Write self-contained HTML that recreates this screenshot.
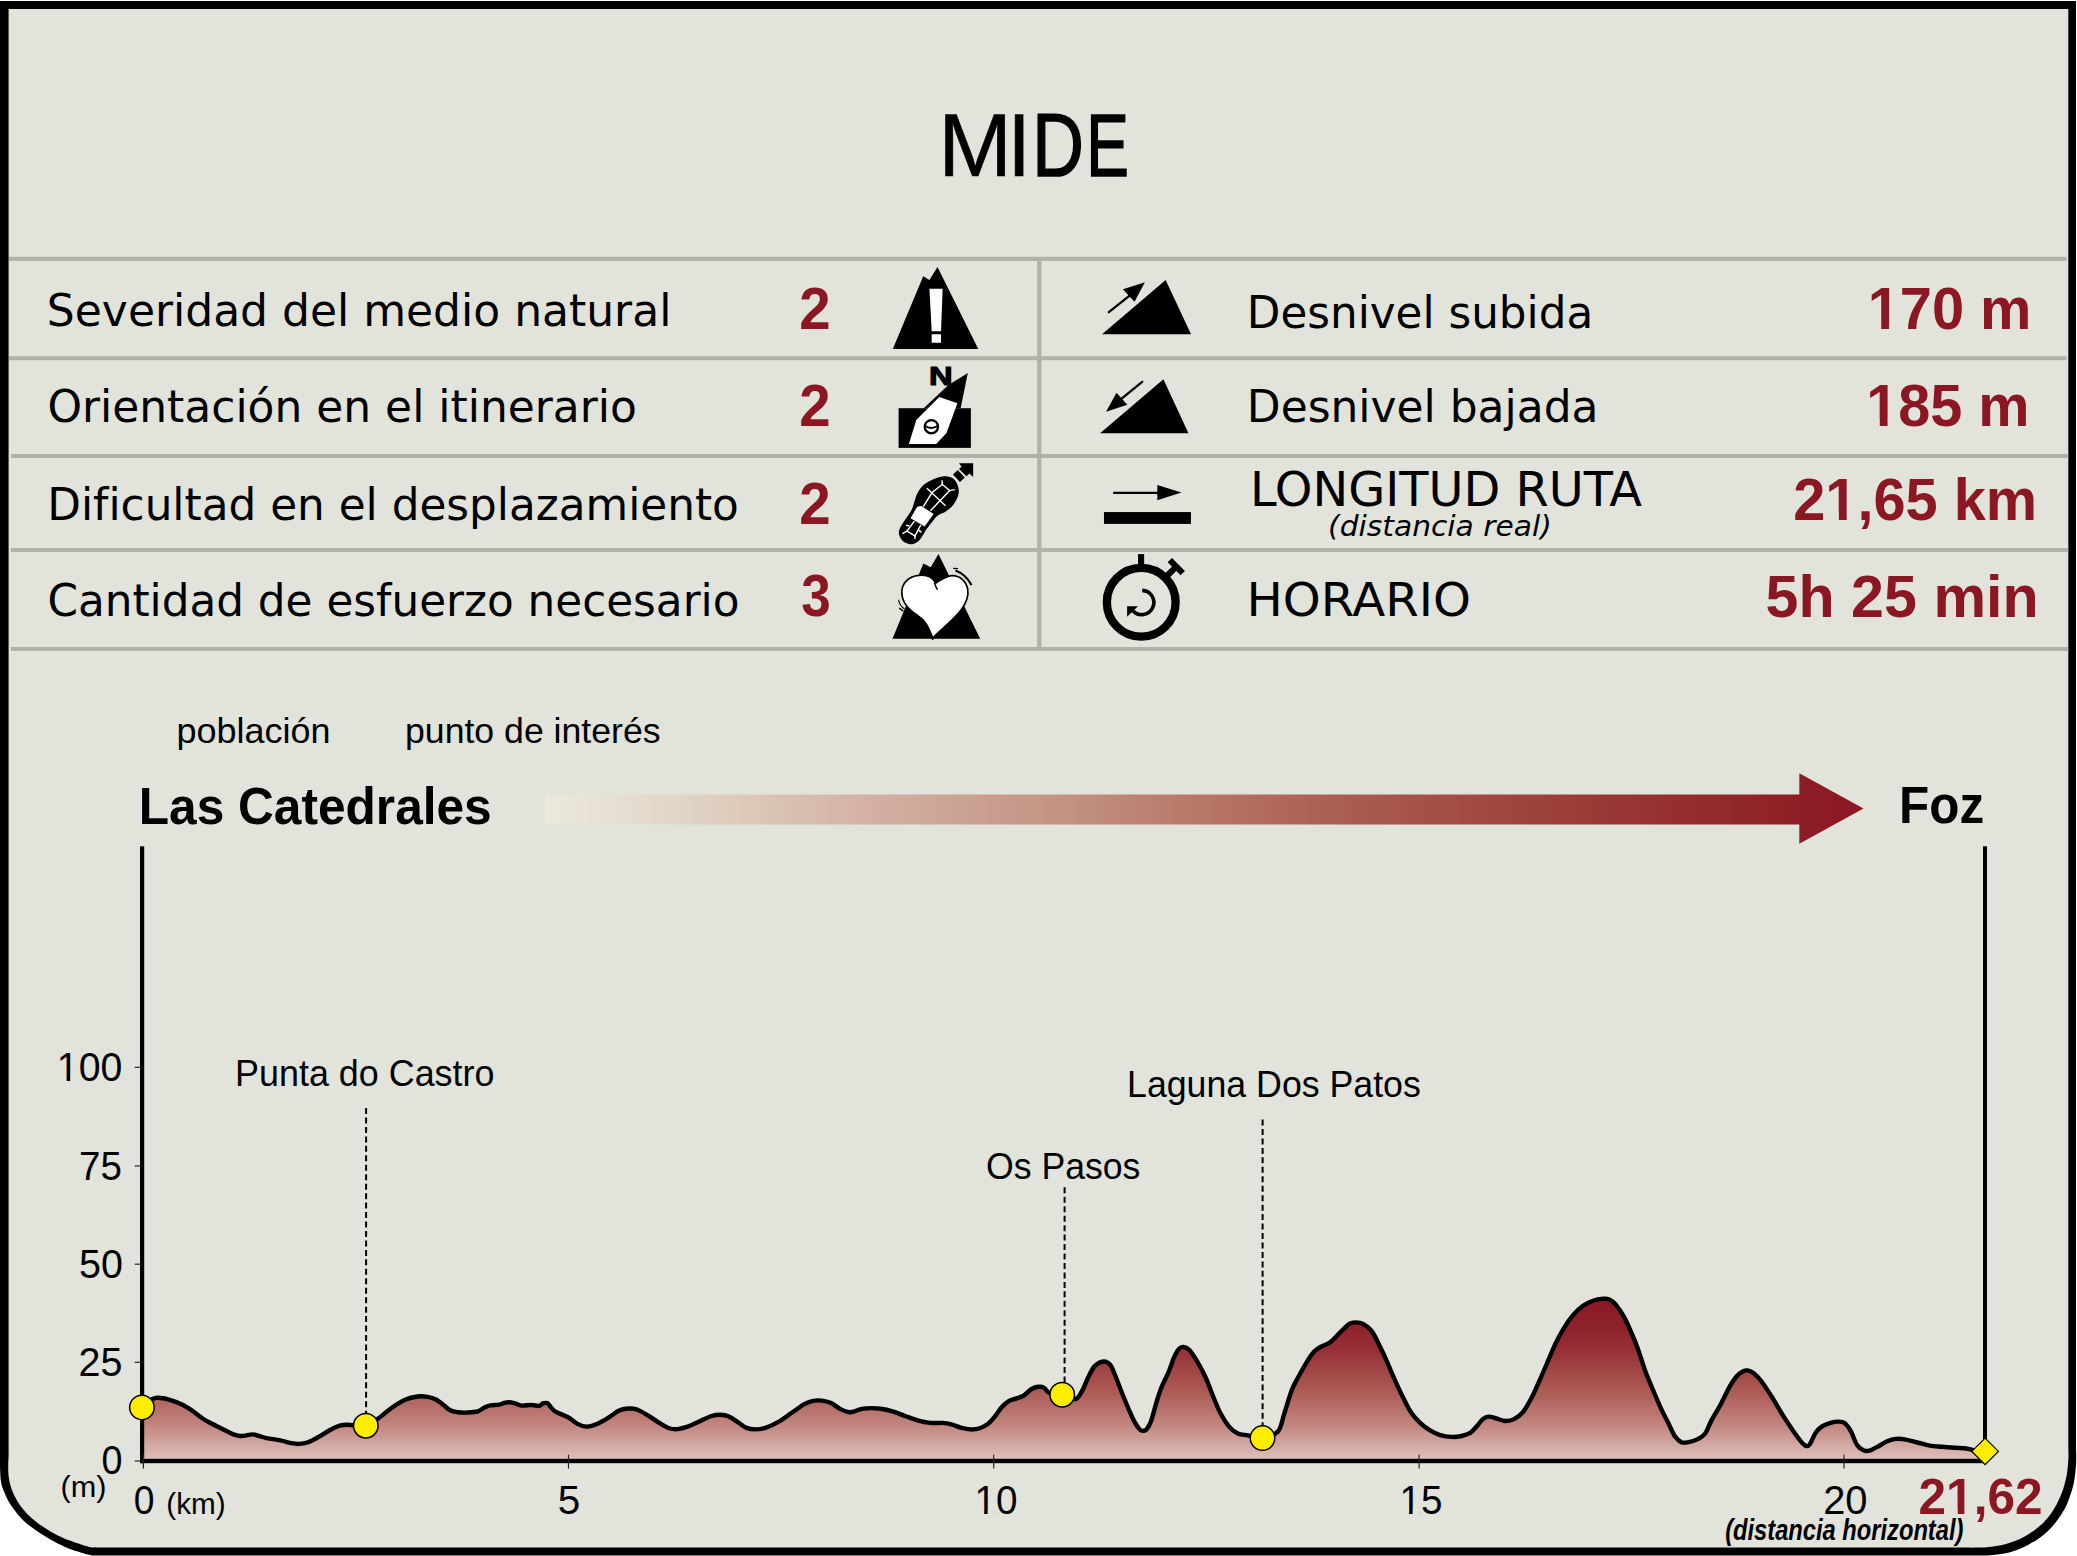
<!DOCTYPE html>
<html lang="es"><head><meta charset="utf-8"><title>MIDE</title>
<style>html,body{margin:0;padding:0;background:#fff}svg{display:block}text{white-space:pre}</style></head><body>
<svg width="2077" height="1556" viewBox="0 0 2077 1556">
<defs>
<linearGradient id="gArrow" gradientUnits="userSpaceOnUse" x1="545" y1="0" x2="1864" y2="0">
<stop offset="0.0000" stop-color="#ece9de"/>
<stop offset="0.0599" stop-color="#e5ded1"/>
<stop offset="0.1236" stop-color="#dfd0c0"/>
<stop offset="0.1880" stop-color="#d9bfb0"/>
<stop offset="0.2517" stop-color="#d2b0a1"/>
<stop offset="0.3154" stop-color="#cba292"/>
<stop offset="0.3791" stop-color="#c49686"/>
<stop offset="0.4435" stop-color="#bd8576"/>
<stop offset="0.5072" stop-color="#b67464"/>
<stop offset="0.6088" stop-color="#aa5c52"/>
<stop offset="0.7369" stop-color="#9e443e"/>
<stop offset="0.8643" stop-color="#942e2e"/>
<stop offset="0.9795" stop-color="#8b1922"/>
<stop offset="1.0000" stop-color="#8b1722"/>
</linearGradient>
<linearGradient id="gProf" gradientUnits="userSpaceOnUse" x1="0" y1="1299" x2="0" y2="1460">
<stop offset="0.0000" stop-color="rgb(139,23,34)"/>
<stop offset="0.1615" stop-color="rgb(142,34,42)"/>
<stop offset="0.3168" stop-color="rgb(150,48,53)"/>
<stop offset="0.5839" stop-color="rgb(173,92,87)"/>
<stop offset="0.7888" stop-color="rgb(195,135,128)"/>
<stop offset="0.9068" stop-color="rgb(210,168,162)"/>
<stop offset="1.0000" stop-color="rgb(223,193,189)"/>
</linearGradient>
</defs>
<path d="M0,1 L2076,1 L2076,1448 C2076.0,1449.3 2076.2,1453.1 2076.2,1456.0 C2076.2,1458.9 2076.2,1462.4 2076.0,1465.6 C2075.8,1468.8 2075.4,1472.1 2075.0,1475.3 C2074.6,1478.5 2074.2,1481.7 2073.4,1484.9 C2072.7,1488.1 2071.6,1491.4 2070.5,1494.6 C2069.4,1497.8 2068.4,1501.0 2067.0,1504.2 C2065.6,1507.4 2063.7,1510.7 2061.8,1513.8 C2059.9,1516.9 2057.8,1519.9 2055.4,1522.8 C2053.1,1525.7 2050.6,1528.5 2047.7,1531.2 C2044.8,1533.9 2041.3,1536.7 2038.1,1538.9 C2034.9,1541.2 2031.6,1543.0 2028.4,1544.7 C2025.2,1546.4 2022.0,1547.9 2018.8,1549.2 C2015.6,1550.5 2012.3,1551.6 2009.1,1552.4 C2005.9,1553.2 2002.7,1553.8 1999.5,1554.3 C1996.3,1554.8 1993.7,1555.0 1989.9,1555.2 C1986.2,1555.4 1981.2,1555.5 1977.0,1555.5 C1972.8,1555.5 1967.0,1555.5 1965.0,1555.5 L92,1555.5 C91.1,1555.3 90.3,1555.3 86.8,1554.3 C83.2,1553.2 75.5,1551.0 70.7,1549.2 C65.9,1547.4 62.1,1545.6 57.8,1543.4 C53.5,1541.2 49.1,1538.8 45.0,1536.3 C40.9,1533.8 37.0,1531.3 33.4,1528.6 C29.8,1525.9 26.2,1523.3 23.1,1520.3 C20.0,1517.3 17.3,1513.8 14.8,1510.6 C12.3,1507.4 10.2,1504.2 8.3,1501.0 C6.5,1497.8 5.1,1494.5 3.9,1491.3 C2.7,1488.1 1.6,1485.8 1.0,1481.7 C0.3,1477.6 0.2,1471.2 0.0,1466.9 C-0.2,1462.6 0.0,1457.8 0.0,1456.0 Z" fill="#000"/>
<path d="M8.6,9 L2068.3,9 L2068.3,1448 C2068.3,1449.3 2068.6,1453.1 2068.5,1456.0 C2068.4,1458.9 2068.2,1462.4 2067.9,1465.6 C2067.6,1468.8 2067.3,1472.1 2066.7,1475.3 C2066.1,1478.5 2065.3,1481.7 2064.4,1484.9 C2063.5,1488.1 2062.5,1491.4 2061.2,1494.6 C2059.9,1497.8 2058.4,1501.0 2056.7,1504.2 C2055.0,1507.4 2053.1,1510.8 2050.9,1513.8 C2048.8,1516.8 2046.5,1519.5 2043.8,1522.2 C2041.1,1524.9 2037.9,1527.6 2034.8,1529.9 C2031.7,1532.2 2028.4,1534.5 2025.2,1536.3 C2022.0,1538.1 2018.8,1539.5 2015.6,1540.8 C2012.4,1542.1 2009.1,1543.1 2005.9,1544.0 C2002.7,1544.9 1999.5,1545.5 1996.3,1546.0 C1993.1,1546.5 1989.8,1546.9 1986.6,1547.2 C1983.4,1547.5 1980.6,1547.5 1977.0,1547.6 C1973.4,1547.7 1967.0,1547.6 1965.0,1547.6 L96,1547.4 C94.9,1547.2 93.0,1547.8 89.3,1546.9 C85.6,1546.1 78.6,1543.8 73.9,1542.1 C69.2,1540.4 65.4,1539.0 61.1,1537.0 C56.8,1535.0 52.3,1532.4 48.2,1529.9 C44.1,1527.4 40.1,1524.9 36.6,1522.2 C33.1,1519.5 29.9,1516.8 27.0,1513.8 C24.1,1510.8 21.5,1507.4 19.3,1504.2 C17.1,1501.0 15.3,1497.8 13.8,1494.6 C12.3,1491.4 11.2,1488.1 10.3,1484.9 C9.4,1481.7 8.8,1478.5 8.5,1475.3 C8.2,1472.1 8.2,1468.8 8.2,1465.6 C8.2,1462.4 8.5,1459.3 8.6,1456.0 C8.7,1452.7 8.6,1447.7 8.6,1446.0 Z" fill="#e2e3da"/>
<g fill="#b1b3ab">
<rect x="9" y="256.8" width="2057.5" height="4.2"/>
<rect x="9" y="356.2" width="2057.5" height="4"/>
<rect x="11" y="454" width="2057.2" height="4"/>
<rect x="11" y="548" width="2057.2" height="4"/>
<rect x="11" y="647" width="2057.2" height="4"/>
<rect x="1037.1" y="260" width="4.3" height="388"/>
</g>
<g transform="translate(870,255) scale(0.06427)">
<path d="M355,1462 L828,330 L925,390 L1050,185 L1685,1462 Z" fill="#000"/>
<path d="M925,525 L1130,525 L1105,1185 L960,1185 Z M960,1235 H1105 V1365 H960 Z" fill="#fff"/>
</g>
<g transform="translate(870,355) scale(0.06427)">
<rect x="445" y="828" width="1125" height="617" fill="#000"/>
<path d="M835,830 L1215,470 L1522,280 L1410,830 Z" fill="#000"/>
<path d="M1078,655 L1360,750 L1190,1215 L1030,1385 L605,1385 L720,1010 Z" fill="#fff"/>
<circle cx="955" cy="1115" r="103" fill="#fff" stroke="#000" stroke-width="36"/>
<path d="M852,1100 Q955,1170 1058,1100" fill="none" stroke="#000" stroke-width="30"/>
</g>
<text transform="translate(929.0,384.9) scale(1.28,1)" font-family='"Liberation Sans", sans-serif' font-weight="bold" font-size="25.6" fill="#000" stroke="#000" stroke-width="1.1">N</text>
<g transform="translate(870,453) scale(0.06427)">
<path d="M1190.0,360.0 C1208.3,366.7 1270.0,373.3 1300.0,400.0 C1330.0,426.7 1357.5,478.3 1370.0,520.0 C1382.5,561.7 1386.7,603.3 1375.0,650.0 C1363.3,696.7 1332.5,756.7 1300.0,800.0 C1267.5,843.3 1221.7,880.8 1180.0,910.0 C1138.3,939.2 1086.7,946.7 1050.0,975.0 C1013.3,1003.3 990.0,1042.5 960.0,1080.0 C930.0,1117.5 898.3,1158.3 870.0,1200.0 C841.7,1241.7 816.7,1296.7 790.0,1330.0 C763.3,1363.3 738.3,1385.0 710.0,1400.0 C681.7,1415.0 653.3,1425.0 620.0,1420.0 C586.7,1415.0 538.0,1395.8 510.0,1370.0 C482.0,1344.2 458.7,1300.0 452.0,1265.0 C445.3,1230.0 452.0,1200.8 470.0,1160.0 C488.0,1119.2 530.0,1066.7 560.0,1020.0 C590.0,973.3 628.3,923.3 650.0,880.0 C671.7,836.7 676.7,800.0 690.0,760.0 C703.3,720.0 708.3,681.7 730.0,640.0 C751.7,598.3 781.7,546.7 820.0,510.0 C858.3,473.3 913.3,443.3 960.0,420.0 C1006.7,396.7 1061.7,380.0 1100.0,370.0 C1138.3,360.0 1175.0,361.7 1190.0,360.0 Z" fill="#000"/>
<path d="M1290,335 L1365,265 L1475,380 L1400,452 Z" fill="#000"/>
<path d="M1385,158 L1605,158 L1605,375 L1548,318 L1500,362 L1385,250 L1425,212 Z" fill="#000"/>
<g stroke="#fff" stroke-width="22" fill="none" stroke-linecap="butt">
<path d="M1120,425 L1125,490 L965,615 L830,835"/>
<path d="M1125,490 L1240,585 L1320,570"/>
<path d="M1240,585 L940,900"/>
<path d="M885,550 L1175,820"/>
<path d="M690,1060 L575,1215 L700,1290 L790,1120"/>
<path d="M575,1215 L505,1255 M700,1290 L700,1340 M560,1125 L612,1135 M760,1200 L800,1235"/>
</g>
<path d="M735,835 L800,825 L990,950 L850,1145 L630,1015 Z" fill="#fff"/>
</g>
<g transform="translate(870,548) scale(0.06427)">
<path d="M350,1412 L830,240 L945,300 L1065,92 L1715,1412 Z" fill="#000"/>
<path d="M1025,545 C960,430 850,415 760,425 C600,440 490,550 495,700 C500,850 600,960 740,1050 C860,1130 900,1200 975,1400 C1100,1270 1300,1120 1420,960 C1500,850 1540,750 1520,640 C1495,510 1390,425 1270,430 C1180,440 1090,500 1025,545 Z" fill="#fff" stroke="#000" stroke-width="26" stroke-linejoin="round"/>
<path d="M1000,540 C1015,580 1030,620 1050,650" fill="none" stroke="#000" stroke-width="22"/>
<path d="M975,1385 L975,1430" stroke="#000" stroke-width="24"/>
<path d="M1330,350 C1440,390 1520,470 1580,575" fill="none" stroke="#000" stroke-width="34"/>
<path d="M1295,318 L1370,322" stroke="#000" stroke-width="20"/>
<path d="M445,805 C455,870 490,920 535,945" fill="none" stroke="#000" stroke-width="18"/>
<path d="M455,935 L520,985" stroke="#000" stroke-width="22"/>
</g>
<g transform="translate(1085,262) scale(0.06427)">
<path d="M265,1125 L1650,1125 L1255,280 Z" fill="#000"/>
<path d="M370,780 L700,520" stroke="#000" stroke-width="36" stroke-linecap="round"/>
<path d="M932,315 L590,425 L770,620 Z" fill="#000"/>
</g>
<g transform="translate(1085,360) scale(0.06427)">
<path d="M235,1140 L1610,1140 L1220,298 Z" fill="#000"/>
<path d="M890,340 L570,600" stroke="#000" stroke-width="36" stroke-linecap="round"/>
<path d="M328,805 L490,508 L658,695 Z" fill="#000"/>
</g>
<g transform="translate(1085,455) scale(0.06427)">
<rect x="295" y="888" width="1353" height="184" fill="#000"/>
<path d="M452,590 L1130,590" stroke="#000" stroke-width="36" stroke-linecap="round"/>
<path d="M1125,468 L1125,705 L1500,585 Z" fill="#000"/>
</g>
<g transform="translate(1085,548) scale(0.06427)">
<circle cx="875" cy="845" r="535" fill="none" stroke="#000" stroke-width="130"/>
<rect x="825" y="95" width="95" height="190" fill="#000"/>
<g transform="translate(1420,290) rotate(45)"><rect x="-142" y="-48" width="284" height="96" fill="#000"/><rect x="-48" y="0" width="96" height="200" fill="#000"/></g>
<path d="M890,660 A188,188 0 1 1 745,975" fill="none" stroke="#000" stroke-width="56"/>
<path d="M655,905 L825,905 L655,1070 Z" fill="#000"/>
</g>
<path d="M545,794.5 L1799.3,794.5 L1799.3,773.3 L1863.5,808.5 L1799.3,843.8 L1799.3,824.4 L545,824.4 Z" fill="url(#gArrow)"/>
<path d="M142.0,1407.2 C143.8,1405.8 149.8,1400.6 152.6,1399.0 C155.4,1397.4 155.7,1397.6 158.8,1397.8 C161.9,1398.0 167.4,1399.1 171.4,1400.3 C175.4,1401.5 179.1,1402.9 182.6,1404.7 C186.1,1406.5 189.3,1408.7 192.7,1411.0 C196.0,1413.3 199.6,1416.4 202.7,1418.5 C205.8,1420.6 208.4,1421.8 211.5,1423.5 C214.6,1425.2 217.9,1426.7 221.5,1428.5 C225.1,1430.3 229.7,1432.8 232.8,1434.1 C235.9,1435.3 238.0,1435.8 240.3,1436.0 C242.6,1436.2 244.4,1435.7 246.5,1435.4 C248.6,1435.1 250.7,1434.3 252.8,1434.4 C254.9,1434.5 256.8,1435.4 259.1,1436.0 C261.4,1436.6 263.1,1437.4 266.6,1438.1 C270.2,1438.8 276.2,1439.6 280.4,1440.4 C284.6,1441.2 288.6,1442.6 291.7,1443.2 C294.8,1443.8 296.5,1444.1 299.2,1443.9 C301.9,1443.8 304.9,1443.4 308.0,1442.3 C311.1,1441.2 314.2,1439.4 318.0,1437.3 C321.8,1435.2 326.8,1431.7 330.5,1429.7 C334.2,1427.7 337.6,1426.2 340.5,1425.4 C343.4,1424.6 343.8,1424.7 348.0,1424.7 C352.2,1424.8 360.8,1426.7 365.8,1425.7 C370.8,1424.7 373.7,1421.6 378.1,1418.5 C382.6,1415.4 388.0,1410.3 392.5,1407.2 C397.0,1404.1 400.9,1401.5 405.1,1399.7 C409.3,1397.9 413.9,1397.0 417.6,1396.5 C421.4,1396.0 424.5,1396.3 427.6,1396.8 C430.7,1397.3 433.7,1398.3 436.4,1399.7 C439.1,1401.1 441.6,1403.5 443.9,1405.3 C446.2,1407.1 447.9,1409.1 450.2,1410.3 C452.5,1411.5 454.8,1411.8 457.7,1412.2 C460.6,1412.6 464.4,1412.7 467.7,1412.5 C471.0,1412.3 475.0,1412.1 477.7,1411.3 C480.4,1410.5 481.9,1408.8 484.0,1407.8 C486.1,1406.8 487.8,1405.8 490.3,1405.3 C492.8,1404.8 496.5,1405.2 499.0,1404.7 C501.5,1404.2 503.5,1403.0 505.3,1402.6 C507.1,1402.2 508.0,1402.1 509.7,1402.2 C511.4,1402.3 513.3,1402.8 515.3,1403.4 C517.3,1404.0 518.9,1405.3 521.6,1405.6 C524.3,1405.8 528.7,1404.9 531.6,1404.9 C534.5,1405.0 537.2,1406.2 539.1,1405.9 C541.0,1405.7 541.5,1403.9 542.9,1403.4 C544.3,1402.9 546.0,1402.6 547.3,1403.1 C548.5,1403.6 549.0,1405.2 550.4,1406.6 C551.8,1408.0 552.5,1409.8 555.4,1411.6 C558.3,1413.4 564.2,1415.1 568.0,1417.2 C571.8,1419.3 574.9,1422.5 578.0,1424.1 C581.1,1425.7 583.5,1426.7 586.8,1426.6 C590.1,1426.5 594.2,1425.1 598.0,1423.5 C601.8,1421.9 605.9,1419.3 609.3,1417.2 C612.6,1415.1 615.0,1412.5 618.1,1411.0 C621.2,1409.5 624.9,1408.7 628.1,1408.5 C631.3,1408.3 634.0,1408.5 637.5,1409.7 C641.0,1411.0 644.8,1413.6 648.8,1416.0 C652.8,1418.4 657.8,1422.0 661.3,1424.1 C664.8,1426.2 667.4,1427.7 670.1,1428.5 C672.8,1429.3 674.7,1429.4 677.6,1429.1 C680.5,1428.8 683.8,1427.9 687.6,1426.6 C691.4,1425.2 696.2,1422.8 700.2,1421.0 C704.2,1419.2 708.2,1417.0 711.5,1416.0 C714.8,1415.0 717.3,1414.6 720.2,1414.7 C723.1,1414.8 726.1,1415.3 729.0,1416.6 C731.9,1417.8 734.9,1420.3 737.8,1422.2 C740.7,1424.1 743.6,1426.7 746.5,1427.9 C749.4,1429.1 752.2,1429.4 755.3,1429.4 C758.4,1429.4 761.5,1429.1 765.3,1427.9 C769.1,1426.7 773.5,1424.7 777.9,1422.2 C782.3,1419.7 787.3,1415.8 791.7,1412.8 C796.1,1409.8 800.7,1406.1 804.2,1404.1 C807.8,1402.1 810.1,1401.5 813.0,1400.9 C815.9,1400.3 818.8,1400.3 821.7,1400.6 C824.6,1400.9 827.4,1401.4 830.5,1402.8 C833.6,1404.2 837.4,1407.5 840.5,1409.1 C843.6,1410.7 846.8,1411.9 849.3,1412.2 C851.8,1412.5 853.5,1411.6 855.6,1411.0 C857.7,1410.4 859.1,1409.3 861.8,1408.8 C864.5,1408.3 868.8,1408.1 871.9,1408.1 C875.0,1408.1 877.2,1408.2 880.6,1408.7 C884.0,1409.2 888.4,1410.1 892.5,1411.3 C896.6,1412.5 900.9,1414.5 905.1,1416.0 C909.3,1417.5 913.4,1419.2 917.6,1420.4 C921.8,1421.6 925.9,1422.5 930.1,1422.9 C934.3,1423.3 939.2,1422.7 942.7,1422.9 C946.2,1423.2 948.3,1423.6 951.4,1424.4 C954.5,1425.2 958.4,1427.1 961.5,1427.9 C964.6,1428.7 967.3,1429.3 970.2,1429.4 C973.1,1429.5 976.1,1429.4 979.0,1428.5 C981.9,1427.6 985.1,1426.2 987.8,1424.1 C990.5,1422.0 993.0,1418.8 995.3,1416.0 C997.6,1413.2 999.3,1409.7 1001.6,1407.2 C1003.9,1404.7 1006.6,1402.4 1009.1,1400.9 C1011.6,1399.4 1014.1,1399.3 1016.6,1398.4 C1019.1,1397.5 1021.6,1396.9 1024.1,1395.3 C1026.6,1393.7 1029.2,1390.4 1031.6,1389.0 C1034.0,1387.6 1036.4,1387.0 1038.5,1386.8 C1040.6,1386.6 1042.4,1386.8 1044.2,1387.8 C1046.0,1388.8 1046.2,1391.3 1049.2,1392.8 C1052.2,1394.2 1057.7,1395.5 1062.1,1396.5 C1066.5,1397.5 1072.2,1399.8 1075.5,1399.0 C1078.8,1398.2 1079.7,1395.0 1081.8,1391.5 C1083.9,1388.0 1085.9,1381.9 1088.0,1377.7 C1090.1,1373.5 1092.2,1369.1 1094.3,1366.5 C1096.4,1363.9 1098.7,1362.9 1100.6,1362.1 C1102.5,1361.3 1103.9,1361.2 1105.6,1361.7 C1107.3,1362.2 1108.9,1362.7 1110.6,1365.2 C1112.3,1367.7 1113.7,1371.9 1115.6,1376.5 C1117.5,1381.1 1119.8,1387.6 1121.9,1392.8 C1124.0,1398.0 1126.0,1403.0 1128.1,1407.8 C1130.2,1412.6 1132.4,1417.9 1134.4,1421.6 C1136.4,1425.2 1138.5,1428.2 1140.0,1429.7 C1141.5,1431.2 1142.4,1430.9 1143.5,1430.8 C1144.6,1430.7 1145.5,1430.9 1146.8,1429.2 C1148.1,1427.5 1149.7,1424.8 1151.3,1420.4 C1152.9,1416.0 1154.6,1408.2 1156.3,1402.8 C1158.0,1397.4 1159.2,1393.0 1161.3,1387.8 C1163.4,1382.6 1166.7,1376.5 1168.8,1371.5 C1170.9,1366.5 1172.2,1361.5 1173.9,1357.7 C1175.6,1353.9 1177.3,1350.7 1178.9,1348.9 C1180.5,1347.1 1181.6,1346.9 1183.3,1347.0 C1185.0,1347.1 1186.7,1347.3 1188.9,1349.5 C1191.1,1351.7 1193.7,1355.7 1196.4,1360.2 C1199.1,1364.7 1202.5,1370.7 1205.2,1376.5 C1207.9,1382.3 1210.2,1389.2 1212.7,1395.3 C1215.2,1401.3 1217.5,1407.6 1220.2,1412.8 C1222.9,1418.0 1226.1,1423.1 1229.0,1426.6 C1231.9,1430.0 1234.7,1432.0 1237.8,1433.5 C1240.9,1435.0 1243.7,1434.7 1247.8,1435.4 C1251.9,1436.1 1257.5,1438.1 1262.5,1437.5 C1267.5,1436.9 1274.3,1435.5 1277.9,1431.6 C1281.5,1427.7 1281.8,1421.0 1284.1,1414.1 C1286.4,1407.2 1289.4,1396.4 1291.7,1390.3 C1294.0,1384.2 1295.2,1382.7 1297.9,1377.7 C1300.6,1372.7 1305.2,1364.6 1307.9,1360.2 C1310.6,1355.8 1312.1,1353.6 1314.2,1351.4 C1316.3,1349.2 1317.8,1348.6 1320.5,1347.0 C1323.2,1345.4 1327.2,1344.5 1330.5,1342.0 C1333.8,1339.5 1337.4,1335.0 1340.5,1332.0 C1343.6,1329.0 1346.8,1325.5 1349.3,1323.9 C1351.8,1322.3 1353.3,1322.4 1355.6,1322.4 C1357.9,1322.4 1360.4,1322.4 1363.1,1323.9 C1365.8,1325.4 1369.0,1327.4 1371.9,1331.4 C1374.8,1335.4 1378.2,1342.9 1380.6,1347.7 C1383.0,1352.5 1383.9,1354.8 1386.3,1360.2 C1388.7,1365.6 1392.1,1373.8 1395.0,1380.3 C1397.9,1386.8 1401.1,1393.6 1403.8,1399.0 C1406.5,1404.4 1408.6,1408.8 1411.3,1412.8 C1414.0,1416.8 1417.0,1420.0 1420.1,1422.9 C1423.2,1425.8 1426.8,1428.4 1430.1,1430.4 C1433.4,1432.4 1436.7,1434.0 1440.2,1435.1 C1443.8,1436.2 1447.9,1436.8 1451.4,1436.9 C1455.0,1437.1 1458.4,1436.7 1461.5,1436.0 C1464.6,1435.3 1467.7,1434.5 1470.2,1432.9 C1472.7,1431.3 1474.4,1428.9 1476.5,1426.6 C1478.6,1424.3 1480.7,1420.8 1482.8,1419.1 C1484.9,1417.4 1486.7,1416.7 1489.0,1416.6 C1491.3,1416.5 1493.8,1417.8 1496.5,1418.5 C1499.2,1419.2 1502.4,1420.9 1505.3,1421.0 C1508.2,1421.1 1511.2,1420.6 1514.1,1419.1 C1517.0,1417.6 1520.0,1415.8 1522.9,1412.2 C1525.8,1408.7 1528.9,1402.9 1531.6,1397.8 C1534.3,1392.7 1536.6,1387.1 1539.1,1381.5 C1541.6,1375.9 1544.0,1370.3 1546.7,1364.0 C1549.4,1357.7 1552.5,1350.0 1555.4,1343.9 C1558.3,1337.8 1561.3,1332.4 1564.2,1327.6 C1567.1,1322.8 1569.9,1318.8 1573.0,1315.1 C1576.1,1311.4 1579.7,1308.1 1583.0,1305.7 C1586.3,1303.3 1589.7,1301.9 1593.0,1300.7 C1596.3,1299.5 1600.4,1299.0 1603.1,1298.8 C1605.8,1298.6 1607.2,1298.5 1609.3,1299.4 C1611.4,1300.3 1613.1,1301.4 1615.6,1304.4 C1618.1,1307.4 1621.7,1312.7 1624.4,1317.6 C1627.1,1322.5 1629.7,1328.9 1631.9,1333.9 C1634.1,1338.9 1635.3,1341.7 1637.5,1347.7 C1639.7,1353.8 1642.5,1363.3 1645.0,1370.2 C1647.5,1377.1 1649.9,1382.5 1652.6,1389.0 C1655.3,1395.5 1658.6,1403.2 1661.3,1409.1 C1664.0,1414.9 1666.5,1419.5 1668.8,1424.1 C1671.1,1428.7 1673.0,1433.6 1675.1,1436.6 C1677.2,1439.6 1679.3,1441.3 1681.4,1442.3 C1683.5,1443.2 1684.9,1442.8 1687.6,1442.3 C1690.3,1441.8 1694.8,1440.6 1697.7,1439.1 C1700.6,1437.6 1702.9,1436.6 1705.2,1433.5 C1707.5,1430.4 1709.0,1425.1 1711.5,1420.4 C1714.0,1415.7 1717.3,1410.7 1720.2,1405.3 C1723.1,1399.9 1726.3,1392.6 1729.0,1387.8 C1731.7,1383.0 1734.2,1379.2 1736.5,1376.5 C1738.8,1373.8 1740.9,1372.5 1742.8,1371.5 C1744.7,1370.5 1745.9,1370.2 1747.8,1370.5 C1749.7,1370.8 1751.8,1371.6 1754.1,1373.4 C1756.4,1375.2 1758.7,1377.7 1761.6,1381.5 C1764.5,1385.3 1768.0,1390.9 1771.6,1396.5 C1775.1,1402.1 1779.4,1409.6 1782.9,1415.3 C1786.5,1421.0 1789.8,1425.9 1792.9,1430.4 C1796.0,1434.9 1799.5,1439.7 1801.7,1442.3 C1803.9,1444.9 1804.8,1445.7 1806.1,1446.0 C1807.4,1446.3 1808.2,1446.4 1809.8,1444.2 C1811.4,1442.0 1813.5,1435.8 1815.5,1432.9 C1817.5,1430.0 1819.2,1428.3 1821.7,1426.6 C1824.2,1424.9 1827.8,1423.7 1830.5,1422.9 C1833.2,1422.1 1835.7,1421.6 1838.0,1421.6 C1840.3,1421.6 1842.5,1421.4 1844.6,1423.0 C1846.7,1424.6 1848.7,1427.5 1850.8,1431.2 C1852.9,1434.9 1855.0,1441.8 1857.1,1445.0 C1859.2,1448.2 1861.3,1449.3 1863.4,1450.2 C1865.5,1451.1 1867.1,1451.3 1869.6,1450.6 C1872.1,1449.9 1875.5,1447.8 1878.4,1446.2 C1881.3,1444.6 1884.3,1442.4 1887.2,1441.2 C1890.1,1440.0 1893.0,1439.2 1895.9,1438.9 C1898.8,1438.6 1901.1,1438.7 1904.7,1439.3 C1908.3,1439.9 1913.1,1441.5 1917.3,1442.5 C1921.5,1443.5 1925.6,1444.9 1929.8,1445.6 C1934.0,1446.3 1938.1,1446.4 1942.3,1446.8 C1946.5,1447.2 1950.6,1447.5 1954.8,1447.8 C1959.0,1448.1 1964.0,1448.2 1967.4,1448.7 C1970.8,1449.2 1972.1,1450.1 1975.0,1450.5 C1977.9,1450.9 1983.1,1450.9 1984.7,1451.0 L1984.7,1461 L142,1461 Z" fill="url(#gProf)"/>
<path d="M142.0,1407.2 C143.8,1405.8 149.8,1400.6 152.6,1399.0 C155.4,1397.4 155.7,1397.6 158.8,1397.8 C161.9,1398.0 167.4,1399.1 171.4,1400.3 C175.4,1401.5 179.1,1402.9 182.6,1404.7 C186.1,1406.5 189.3,1408.7 192.7,1411.0 C196.0,1413.3 199.6,1416.4 202.7,1418.5 C205.8,1420.6 208.4,1421.8 211.5,1423.5 C214.6,1425.2 217.9,1426.7 221.5,1428.5 C225.1,1430.3 229.7,1432.8 232.8,1434.1 C235.9,1435.3 238.0,1435.8 240.3,1436.0 C242.6,1436.2 244.4,1435.7 246.5,1435.4 C248.6,1435.1 250.7,1434.3 252.8,1434.4 C254.9,1434.5 256.8,1435.4 259.1,1436.0 C261.4,1436.6 263.1,1437.4 266.6,1438.1 C270.2,1438.8 276.2,1439.6 280.4,1440.4 C284.6,1441.2 288.6,1442.6 291.7,1443.2 C294.8,1443.8 296.5,1444.1 299.2,1443.9 C301.9,1443.8 304.9,1443.4 308.0,1442.3 C311.1,1441.2 314.2,1439.4 318.0,1437.3 C321.8,1435.2 326.8,1431.7 330.5,1429.7 C334.2,1427.7 337.6,1426.2 340.5,1425.4 C343.4,1424.6 343.8,1424.7 348.0,1424.7 C352.2,1424.8 360.8,1426.7 365.8,1425.7 C370.8,1424.7 373.7,1421.6 378.1,1418.5 C382.6,1415.4 388.0,1410.3 392.5,1407.2 C397.0,1404.1 400.9,1401.5 405.1,1399.7 C409.3,1397.9 413.9,1397.0 417.6,1396.5 C421.4,1396.0 424.5,1396.3 427.6,1396.8 C430.7,1397.3 433.7,1398.3 436.4,1399.7 C439.1,1401.1 441.6,1403.5 443.9,1405.3 C446.2,1407.1 447.9,1409.1 450.2,1410.3 C452.5,1411.5 454.8,1411.8 457.7,1412.2 C460.6,1412.6 464.4,1412.7 467.7,1412.5 C471.0,1412.3 475.0,1412.1 477.7,1411.3 C480.4,1410.5 481.9,1408.8 484.0,1407.8 C486.1,1406.8 487.8,1405.8 490.3,1405.3 C492.8,1404.8 496.5,1405.2 499.0,1404.7 C501.5,1404.2 503.5,1403.0 505.3,1402.6 C507.1,1402.2 508.0,1402.1 509.7,1402.2 C511.4,1402.3 513.3,1402.8 515.3,1403.4 C517.3,1404.0 518.9,1405.3 521.6,1405.6 C524.3,1405.8 528.7,1404.9 531.6,1404.9 C534.5,1405.0 537.2,1406.2 539.1,1405.9 C541.0,1405.7 541.5,1403.9 542.9,1403.4 C544.3,1402.9 546.0,1402.6 547.3,1403.1 C548.5,1403.6 549.0,1405.2 550.4,1406.6 C551.8,1408.0 552.5,1409.8 555.4,1411.6 C558.3,1413.4 564.2,1415.1 568.0,1417.2 C571.8,1419.3 574.9,1422.5 578.0,1424.1 C581.1,1425.7 583.5,1426.7 586.8,1426.6 C590.1,1426.5 594.2,1425.1 598.0,1423.5 C601.8,1421.9 605.9,1419.3 609.3,1417.2 C612.6,1415.1 615.0,1412.5 618.1,1411.0 C621.2,1409.5 624.9,1408.7 628.1,1408.5 C631.3,1408.3 634.0,1408.5 637.5,1409.7 C641.0,1411.0 644.8,1413.6 648.8,1416.0 C652.8,1418.4 657.8,1422.0 661.3,1424.1 C664.8,1426.2 667.4,1427.7 670.1,1428.5 C672.8,1429.3 674.7,1429.4 677.6,1429.1 C680.5,1428.8 683.8,1427.9 687.6,1426.6 C691.4,1425.2 696.2,1422.8 700.2,1421.0 C704.2,1419.2 708.2,1417.0 711.5,1416.0 C714.8,1415.0 717.3,1414.6 720.2,1414.7 C723.1,1414.8 726.1,1415.3 729.0,1416.6 C731.9,1417.8 734.9,1420.3 737.8,1422.2 C740.7,1424.1 743.6,1426.7 746.5,1427.9 C749.4,1429.1 752.2,1429.4 755.3,1429.4 C758.4,1429.4 761.5,1429.1 765.3,1427.9 C769.1,1426.7 773.5,1424.7 777.9,1422.2 C782.3,1419.7 787.3,1415.8 791.7,1412.8 C796.1,1409.8 800.7,1406.1 804.2,1404.1 C807.8,1402.1 810.1,1401.5 813.0,1400.9 C815.9,1400.3 818.8,1400.3 821.7,1400.6 C824.6,1400.9 827.4,1401.4 830.5,1402.8 C833.6,1404.2 837.4,1407.5 840.5,1409.1 C843.6,1410.7 846.8,1411.9 849.3,1412.2 C851.8,1412.5 853.5,1411.6 855.6,1411.0 C857.7,1410.4 859.1,1409.3 861.8,1408.8 C864.5,1408.3 868.8,1408.1 871.9,1408.1 C875.0,1408.1 877.2,1408.2 880.6,1408.7 C884.0,1409.2 888.4,1410.1 892.5,1411.3 C896.6,1412.5 900.9,1414.5 905.1,1416.0 C909.3,1417.5 913.4,1419.2 917.6,1420.4 C921.8,1421.6 925.9,1422.5 930.1,1422.9 C934.3,1423.3 939.2,1422.7 942.7,1422.9 C946.2,1423.2 948.3,1423.6 951.4,1424.4 C954.5,1425.2 958.4,1427.1 961.5,1427.9 C964.6,1428.7 967.3,1429.3 970.2,1429.4 C973.1,1429.5 976.1,1429.4 979.0,1428.5 C981.9,1427.6 985.1,1426.2 987.8,1424.1 C990.5,1422.0 993.0,1418.8 995.3,1416.0 C997.6,1413.2 999.3,1409.7 1001.6,1407.2 C1003.9,1404.7 1006.6,1402.4 1009.1,1400.9 C1011.6,1399.4 1014.1,1399.3 1016.6,1398.4 C1019.1,1397.5 1021.6,1396.9 1024.1,1395.3 C1026.6,1393.7 1029.2,1390.4 1031.6,1389.0 C1034.0,1387.6 1036.4,1387.0 1038.5,1386.8 C1040.6,1386.6 1042.4,1386.8 1044.2,1387.8 C1046.0,1388.8 1046.2,1391.3 1049.2,1392.8 C1052.2,1394.2 1057.7,1395.5 1062.1,1396.5 C1066.5,1397.5 1072.2,1399.8 1075.5,1399.0 C1078.8,1398.2 1079.7,1395.0 1081.8,1391.5 C1083.9,1388.0 1085.9,1381.9 1088.0,1377.7 C1090.1,1373.5 1092.2,1369.1 1094.3,1366.5 C1096.4,1363.9 1098.7,1362.9 1100.6,1362.1 C1102.5,1361.3 1103.9,1361.2 1105.6,1361.7 C1107.3,1362.2 1108.9,1362.7 1110.6,1365.2 C1112.3,1367.7 1113.7,1371.9 1115.6,1376.5 C1117.5,1381.1 1119.8,1387.6 1121.9,1392.8 C1124.0,1398.0 1126.0,1403.0 1128.1,1407.8 C1130.2,1412.6 1132.4,1417.9 1134.4,1421.6 C1136.4,1425.2 1138.5,1428.2 1140.0,1429.7 C1141.5,1431.2 1142.4,1430.9 1143.5,1430.8 C1144.6,1430.7 1145.5,1430.9 1146.8,1429.2 C1148.1,1427.5 1149.7,1424.8 1151.3,1420.4 C1152.9,1416.0 1154.6,1408.2 1156.3,1402.8 C1158.0,1397.4 1159.2,1393.0 1161.3,1387.8 C1163.4,1382.6 1166.7,1376.5 1168.8,1371.5 C1170.9,1366.5 1172.2,1361.5 1173.9,1357.7 C1175.6,1353.9 1177.3,1350.7 1178.9,1348.9 C1180.5,1347.1 1181.6,1346.9 1183.3,1347.0 C1185.0,1347.1 1186.7,1347.3 1188.9,1349.5 C1191.1,1351.7 1193.7,1355.7 1196.4,1360.2 C1199.1,1364.7 1202.5,1370.7 1205.2,1376.5 C1207.9,1382.3 1210.2,1389.2 1212.7,1395.3 C1215.2,1401.3 1217.5,1407.6 1220.2,1412.8 C1222.9,1418.0 1226.1,1423.1 1229.0,1426.6 C1231.9,1430.0 1234.7,1432.0 1237.8,1433.5 C1240.9,1435.0 1243.7,1434.7 1247.8,1435.4 C1251.9,1436.1 1257.5,1438.1 1262.5,1437.5 C1267.5,1436.9 1274.3,1435.5 1277.9,1431.6 C1281.5,1427.7 1281.8,1421.0 1284.1,1414.1 C1286.4,1407.2 1289.4,1396.4 1291.7,1390.3 C1294.0,1384.2 1295.2,1382.7 1297.9,1377.7 C1300.6,1372.7 1305.2,1364.6 1307.9,1360.2 C1310.6,1355.8 1312.1,1353.6 1314.2,1351.4 C1316.3,1349.2 1317.8,1348.6 1320.5,1347.0 C1323.2,1345.4 1327.2,1344.5 1330.5,1342.0 C1333.8,1339.5 1337.4,1335.0 1340.5,1332.0 C1343.6,1329.0 1346.8,1325.5 1349.3,1323.9 C1351.8,1322.3 1353.3,1322.4 1355.6,1322.4 C1357.9,1322.4 1360.4,1322.4 1363.1,1323.9 C1365.8,1325.4 1369.0,1327.4 1371.9,1331.4 C1374.8,1335.4 1378.2,1342.9 1380.6,1347.7 C1383.0,1352.5 1383.9,1354.8 1386.3,1360.2 C1388.7,1365.6 1392.1,1373.8 1395.0,1380.3 C1397.9,1386.8 1401.1,1393.6 1403.8,1399.0 C1406.5,1404.4 1408.6,1408.8 1411.3,1412.8 C1414.0,1416.8 1417.0,1420.0 1420.1,1422.9 C1423.2,1425.8 1426.8,1428.4 1430.1,1430.4 C1433.4,1432.4 1436.7,1434.0 1440.2,1435.1 C1443.8,1436.2 1447.9,1436.8 1451.4,1436.9 C1455.0,1437.1 1458.4,1436.7 1461.5,1436.0 C1464.6,1435.3 1467.7,1434.5 1470.2,1432.9 C1472.7,1431.3 1474.4,1428.9 1476.5,1426.6 C1478.6,1424.3 1480.7,1420.8 1482.8,1419.1 C1484.9,1417.4 1486.7,1416.7 1489.0,1416.6 C1491.3,1416.5 1493.8,1417.8 1496.5,1418.5 C1499.2,1419.2 1502.4,1420.9 1505.3,1421.0 C1508.2,1421.1 1511.2,1420.6 1514.1,1419.1 C1517.0,1417.6 1520.0,1415.8 1522.9,1412.2 C1525.8,1408.7 1528.9,1402.9 1531.6,1397.8 C1534.3,1392.7 1536.6,1387.1 1539.1,1381.5 C1541.6,1375.9 1544.0,1370.3 1546.7,1364.0 C1549.4,1357.7 1552.5,1350.0 1555.4,1343.9 C1558.3,1337.8 1561.3,1332.4 1564.2,1327.6 C1567.1,1322.8 1569.9,1318.8 1573.0,1315.1 C1576.1,1311.4 1579.7,1308.1 1583.0,1305.7 C1586.3,1303.3 1589.7,1301.9 1593.0,1300.7 C1596.3,1299.5 1600.4,1299.0 1603.1,1298.8 C1605.8,1298.6 1607.2,1298.5 1609.3,1299.4 C1611.4,1300.3 1613.1,1301.4 1615.6,1304.4 C1618.1,1307.4 1621.7,1312.7 1624.4,1317.6 C1627.1,1322.5 1629.7,1328.9 1631.9,1333.9 C1634.1,1338.9 1635.3,1341.7 1637.5,1347.7 C1639.7,1353.8 1642.5,1363.3 1645.0,1370.2 C1647.5,1377.1 1649.9,1382.5 1652.6,1389.0 C1655.3,1395.5 1658.6,1403.2 1661.3,1409.1 C1664.0,1414.9 1666.5,1419.5 1668.8,1424.1 C1671.1,1428.7 1673.0,1433.6 1675.1,1436.6 C1677.2,1439.6 1679.3,1441.3 1681.4,1442.3 C1683.5,1443.2 1684.9,1442.8 1687.6,1442.3 C1690.3,1441.8 1694.8,1440.6 1697.7,1439.1 C1700.6,1437.6 1702.9,1436.6 1705.2,1433.5 C1707.5,1430.4 1709.0,1425.1 1711.5,1420.4 C1714.0,1415.7 1717.3,1410.7 1720.2,1405.3 C1723.1,1399.9 1726.3,1392.6 1729.0,1387.8 C1731.7,1383.0 1734.2,1379.2 1736.5,1376.5 C1738.8,1373.8 1740.9,1372.5 1742.8,1371.5 C1744.7,1370.5 1745.9,1370.2 1747.8,1370.5 C1749.7,1370.8 1751.8,1371.6 1754.1,1373.4 C1756.4,1375.2 1758.7,1377.7 1761.6,1381.5 C1764.5,1385.3 1768.0,1390.9 1771.6,1396.5 C1775.1,1402.1 1779.4,1409.6 1782.9,1415.3 C1786.5,1421.0 1789.8,1425.9 1792.9,1430.4 C1796.0,1434.9 1799.5,1439.7 1801.7,1442.3 C1803.9,1444.9 1804.8,1445.7 1806.1,1446.0 C1807.4,1446.3 1808.2,1446.4 1809.8,1444.2 C1811.4,1442.0 1813.5,1435.8 1815.5,1432.9 C1817.5,1430.0 1819.2,1428.3 1821.7,1426.6 C1824.2,1424.9 1827.8,1423.7 1830.5,1422.9 C1833.2,1422.1 1835.7,1421.6 1838.0,1421.6 C1840.3,1421.6 1842.5,1421.4 1844.6,1423.0 C1846.7,1424.6 1848.7,1427.5 1850.8,1431.2 C1852.9,1434.9 1855.0,1441.8 1857.1,1445.0 C1859.2,1448.2 1861.3,1449.3 1863.4,1450.2 C1865.5,1451.1 1867.1,1451.3 1869.6,1450.6 C1872.1,1449.9 1875.5,1447.8 1878.4,1446.2 C1881.3,1444.6 1884.3,1442.4 1887.2,1441.2 C1890.1,1440.0 1893.0,1439.2 1895.9,1438.9 C1898.8,1438.6 1901.1,1438.7 1904.7,1439.3 C1908.3,1439.9 1913.1,1441.5 1917.3,1442.5 C1921.5,1443.5 1925.6,1444.9 1929.8,1445.6 C1934.0,1446.3 1938.1,1446.4 1942.3,1446.8 C1946.5,1447.2 1950.6,1447.5 1954.8,1447.8 C1959.0,1448.1 1964.0,1448.2 1967.4,1448.7 C1970.8,1449.2 1972.1,1450.1 1975.0,1450.5 C1977.9,1450.9 1983.1,1450.9 1984.7,1451.0" fill="none" stroke="#000" stroke-width="4.4" stroke-linejoin="round"/>
<rect x="140" y="846.3" width="4.2" height="616.9" fill="#000"/>
<rect x="1983" y="846.3" width="4" height="605" fill="#000"/>
<rect x="140" y="1458.8" width="1845" height="4.4" fill="#000"/>
<g stroke="#2a2220" stroke-width="1.2">
<path d="M134.7,1067.3 H141"/>
<path d="M134.7,1166.0 H141"/>
<path d="M134.7,1264.2 H141"/>
<path d="M134.7,1362.3 H141"/>
<path d="M134.7,1461.0 H141"/>
<path d="M143.4,1454.8 V1468.6"/>
<path d="M568.5,1454.8 V1468.6"/>
<path d="M993.7,1454.8 V1468.6"/>
<path d="M1419.1,1454.8 V1468.6"/>
<path d="M1844.0,1454.8 V1468.6"/>
</g>
<g stroke="#000" stroke-width="2" stroke-dasharray="6 3.46">
<path d="M366.1,1108 V1414"/>
<path d="M1064.6,1187.3 V1384"/>
<path d="M1262.6,1119.5 V1427"/>
</g>
<circle cx="141.9" cy="1407.4" r="12.25" fill="#ffed00" stroke="#000" stroke-width="1.5"/>
<circle cx="365.8" cy="1425.7" r="12.25" fill="#ffed00" stroke="#000" stroke-width="1.5"/>
<circle cx="1062.2" cy="1394.7" r="12.25" fill="#ffed00" stroke="#000" stroke-width="1.5"/>
<circle cx="1262.5" cy="1438.1" r="12.25" fill="#ffed00" stroke="#000" stroke-width="1.5"/>
<path d="M1985.1,1438.1 L1998.4,1451.4 L1985.1,1464.7 L1971.8,1451.4 Z" fill="#ffed00" stroke="#000" stroke-width="1.2"/>

<text id="tM" transform="translate(938.26,176.40) scale(0.9882,1)" font-family='"Liberation Sans", sans-serif' font-size="89.6" fill="#000" stroke="#000" stroke-width="0.6">M</text><text id="tI" transform="translate(1007.17,176.40) scale(0.9515,1)" font-family='"Liberation Sans", sans-serif' font-size="89.6" fill="#000" stroke="#000" stroke-width="0.6">I</text><text id="tD" transform="translate(1032.23,176.40) scale(0.7974,1)" font-family='"Liberation Sans", sans-serif' font-size="89.6" fill="#000" stroke="#000" stroke-width="1.6">D</text><text id="tE" transform="translate(1086.32,176.40) scale(0.7131,1)" font-family='"Liberation Sans", sans-serif' font-size="89.6" fill="#000" stroke="#000" stroke-width="1.6">E</text>
<text id="l1" transform="translate(46.87,325.90) scale(1.0022,1)" font-family='"DejaVu Sans", "Liberation Sans", sans-serif' font-size="43.9" fill="#000">Severidad del medio natural</text>
<text id="l2" transform="translate(47.40,421.70) scale(1.0009,1)" font-family='"DejaVu Sans", "Liberation Sans", sans-serif' font-size="43.9" fill="#000">Orientación en el itinerario</text>
<text id="l3" transform="translate(47.20,520.20) scale(0.9967,1)" font-family='"DejaVu Sans", "Liberation Sans", sans-serif' font-size="43.9" fill="#000">Dificultad en el desplazamiento</text>
<text id="l4" transform="translate(47.40,616.20) scale(0.9960,1)" font-family='"DejaVu Sans", "Liberation Sans", sans-serif' font-size="43.9" fill="#000">Cantidad de esfuerzo necesario</text>
<text id="n1" transform="translate(799.30,329.30) scale(0.9499,1)" font-family='"Liberation Sans", sans-serif' font-size="59.4" fill="#8b1722" font-weight="bold">2</text>
<text id="n2" transform="translate(799.30,425.50) scale(0.9499,1)" font-family='"Liberation Sans", sans-serif' font-size="59.4" fill="#8b1722" font-weight="bold">2</text>
<text id="n3" transform="translate(799.30,523.90) scale(0.9499,1)" font-family='"Liberation Sans", sans-serif' font-size="59.4" fill="#8b1722" font-weight="bold">2</text>
<text id="n4" transform="translate(801.23,616.40) scale(0.8944,1)" font-family='"Liberation Sans", sans-serif' font-size="59.4" fill="#8b1722" font-weight="bold">3</text>
<text id="r1" transform="translate(1246.84,327.90) scale(0.9941,1)" font-family='"DejaVu Sans", "Liberation Sans", sans-serif' font-size="43.9" fill="#000">Desnivel subida</text>
<text id="r2" transform="translate(1246.82,421.90) scale(1.0005,1)" font-family='"DejaVu Sans", "Liberation Sans", sans-serif' font-size="43.9" fill="#000">Desnivel bajada</text>
<text id="r3" transform="translate(1249.89,505.90) scale(1.0133,1)" font-family='"DejaVu Sans", "Liberation Sans", sans-serif' font-size="47.2" fill="#000">LONGITUD RUTA</text>
<text id="r3b" transform="translate(1328.11,536.00) scale(1.0433,1)" font-family='"DejaVu Sans", "Liberation Sans", sans-serif' font-size="28.5" fill="#000" font-style="italic">(distancia real)</text>
<text id="r4" transform="translate(1246.40,616.10) scale(1.0426,1)" font-family='"DejaVu Sans", "Liberation Sans", sans-serif' font-size="46.3" fill="#000">HORARIO</text>
<text id="v1" transform="translate(1867.69,329.20) scale(0.9723,1)" font-family='"Liberation Sans", sans-serif' font-size="59.4" fill="#8b1722" font-weight="bold">170 m</text>
<text id="v2" transform="translate(1866.25,425.50) scale(0.9695,1)" font-family='"Liberation Sans", sans-serif' font-size="59.4" fill="#8b1722" font-weight="bold">185 m</text>
<text id="v3" transform="translate(1793.25,519.80) scale(0.9716,1)" font-family='"Liberation Sans", sans-serif' font-size="59.4" fill="#8b1722" font-weight="bold">21,65 km</text>
<text id="v4" transform="translate(1765.62,616.60) scale(0.9965,1)" font-family='"Liberation Sans", sans-serif' font-size="59.4" fill="#8b1722" font-weight="bold">5h 25 min</text>
<text id="lg1" transform="translate(176.57,742.50) scale(1.0135,1)" font-family='"Liberation Sans", sans-serif' font-size="35.5" fill="#000">población</text>
<text id="lg2" transform="translate(404.99,742.50) scale(1.0040,1)" font-family='"Liberation Sans", sans-serif' font-size="35.5" fill="#000">punto de interés</text>
<text id="st" transform="translate(138.74,823.70) scale(0.9617,1)" font-family='"Liberation Sans", sans-serif' font-size="51.6" fill="#000" font-weight="bold">Las Catedrales</text>
<text id="en" transform="translate(1899.11,823.30) scale(0.9582,1)" font-family='"Liberation Sans", sans-serif' font-size="51.6" fill="#000" font-weight="bold">Foz</text>
<text id="y100" transform="translate(56.81,1081.10) scale(0.9814,1)" font-family='"Liberation Sans", sans-serif' font-size="40.0" fill="#000">100</text>
<text id="y75" transform="translate(79.01,1179.50) scale(0.9633,1)" font-family='"Liberation Sans", sans-serif' font-size="40.0" fill="#000">75</text>
<text id="y50" transform="translate(79.02,1278.20) scale(0.9865,1)" font-family='"Liberation Sans", sans-serif' font-size="40.0" fill="#000">50</text>
<text id="y25" transform="translate(78.47,1376.20) scale(0.9878,1)" font-family='"Liberation Sans", sans-serif' font-size="40.0" fill="#000">25</text>
<text id="y0" transform="translate(101.59,1474.00) scale(0.9423,1)" font-family='"Liberation Sans", sans-serif' font-size="40.0" fill="#000">0</text>
<text id="ym" transform="translate(60.47,1496.60) scale(1.0563,1)" font-family='"Liberation Sans", sans-serif' font-size="29.0" fill="#000">(m)</text>
<text id="x0" transform="translate(133.63,1513.80) scale(0.9310,1)" font-family='"Liberation Sans", sans-serif' font-size="40.0" fill="#000">0</text>
<text id="xkm" transform="translate(166.35,1513.90) scale(1.0240,1)" font-family='"Liberation Sans", sans-serif' font-size="29.0" fill="#000">(km)</text>
<text id="x5" transform="translate(557.82,1513.90) scale(1.0106,1)" font-family='"Liberation Sans", sans-serif' font-size="40.0" fill="#000">5</text>
<text id="x10" transform="translate(974.49,1513.90) scale(0.9657,1)" font-family='"Liberation Sans", sans-serif' font-size="40.0" fill="#000">10</text>
<text id="x15" transform="translate(1399.48,1513.90) scale(0.9664,1)" font-family='"Liberation Sans", sans-serif' font-size="40.0" fill="#000">15</text>
<text id="x20" transform="translate(1823.21,1513.80) scale(0.9962,1)" font-family='"Liberation Sans", sans-serif' font-size="40.0" fill="#000">20</text>
<text id="xend" transform="translate(1918.56,1514.10) scale(1.0045,1)" font-family='"Liberation Sans", sans-serif' font-size="49.3" fill="#8b1722" font-weight="bold">21,62</text>
<text id="dh" transform="translate(1725.18,1539.50) scale(0.8172,1)" font-family='"Liberation Sans", sans-serif' font-size="29.0" fill="#000" font-weight="bold" font-style="italic">(distancia horizontal)</text>
<text id="p1" transform="translate(235.03,1085.70) scale(0.9892,1)" font-family='"Liberation Sans", sans-serif' font-size="36.3" fill="#000">Punta do Castro</text>
<text id="p2" transform="translate(986.01,1178.80) scale(0.9814,1)" font-family='"Liberation Sans", sans-serif' font-size="36.3" fill="#000">Os Pasos</text>
<text id="p3" transform="translate(1127.05,1097.10) scale(0.9838,1)" font-family='"Liberation Sans", sans-serif' font-size="36.3" fill="#000">Laguna Dos Patos</text>
<g transform="translate(1867.69,329.20) scale(0.9723,1)" fill="#e2e3da"><rect x="2.97" y="-6.53" width="10.99" height="7.73"/><rect x="21.98" y="-6.53" width="10.40" height="7.73"/></g>
<g transform="translate(1866.25,425.50) scale(0.9695,1)" fill="#e2e3da"><rect x="2.97" y="-6.53" width="10.99" height="7.73"/><rect x="21.98" y="-6.53" width="10.40" height="7.73"/></g>
<g transform="translate(1793.25,519.80) scale(0.9716,1)" fill="#e2e3da"><rect x="36.00" y="-6.53" width="10.99" height="7.73"/><rect x="55.00" y="-6.53" width="10.40" height="7.73"/></g>
<g transform="translate(56.81,1081.10) scale(0.9814,1)" fill="#e2e3da"><rect x="2.40" y="-3.47" width="7.60" height="4.67"/><rect x="13.60" y="-3.47" width="7.20" height="4.67"/></g>
<g transform="translate(974.49,1513.90) scale(0.9657,1)" fill="#e2e3da"><rect x="2.40" y="-3.47" width="7.60" height="4.67"/><rect x="13.60" y="-3.47" width="7.20" height="4.67"/></g>
<g transform="translate(1399.48,1513.90) scale(0.9664,1)" fill="#e2e3da"><rect x="2.40" y="-3.47" width="7.60" height="4.67"/><rect x="13.60" y="-3.47" width="7.20" height="4.67"/></g>
<g transform="translate(1918.56,1514.10) scale(1.0045,1)" fill="#e2e3da"><rect x="29.88" y="-5.48" width="9.12" height="6.68"/><rect x="45.65" y="-5.48" width="8.63" height="6.68"/></g>
</svg></body></html>
